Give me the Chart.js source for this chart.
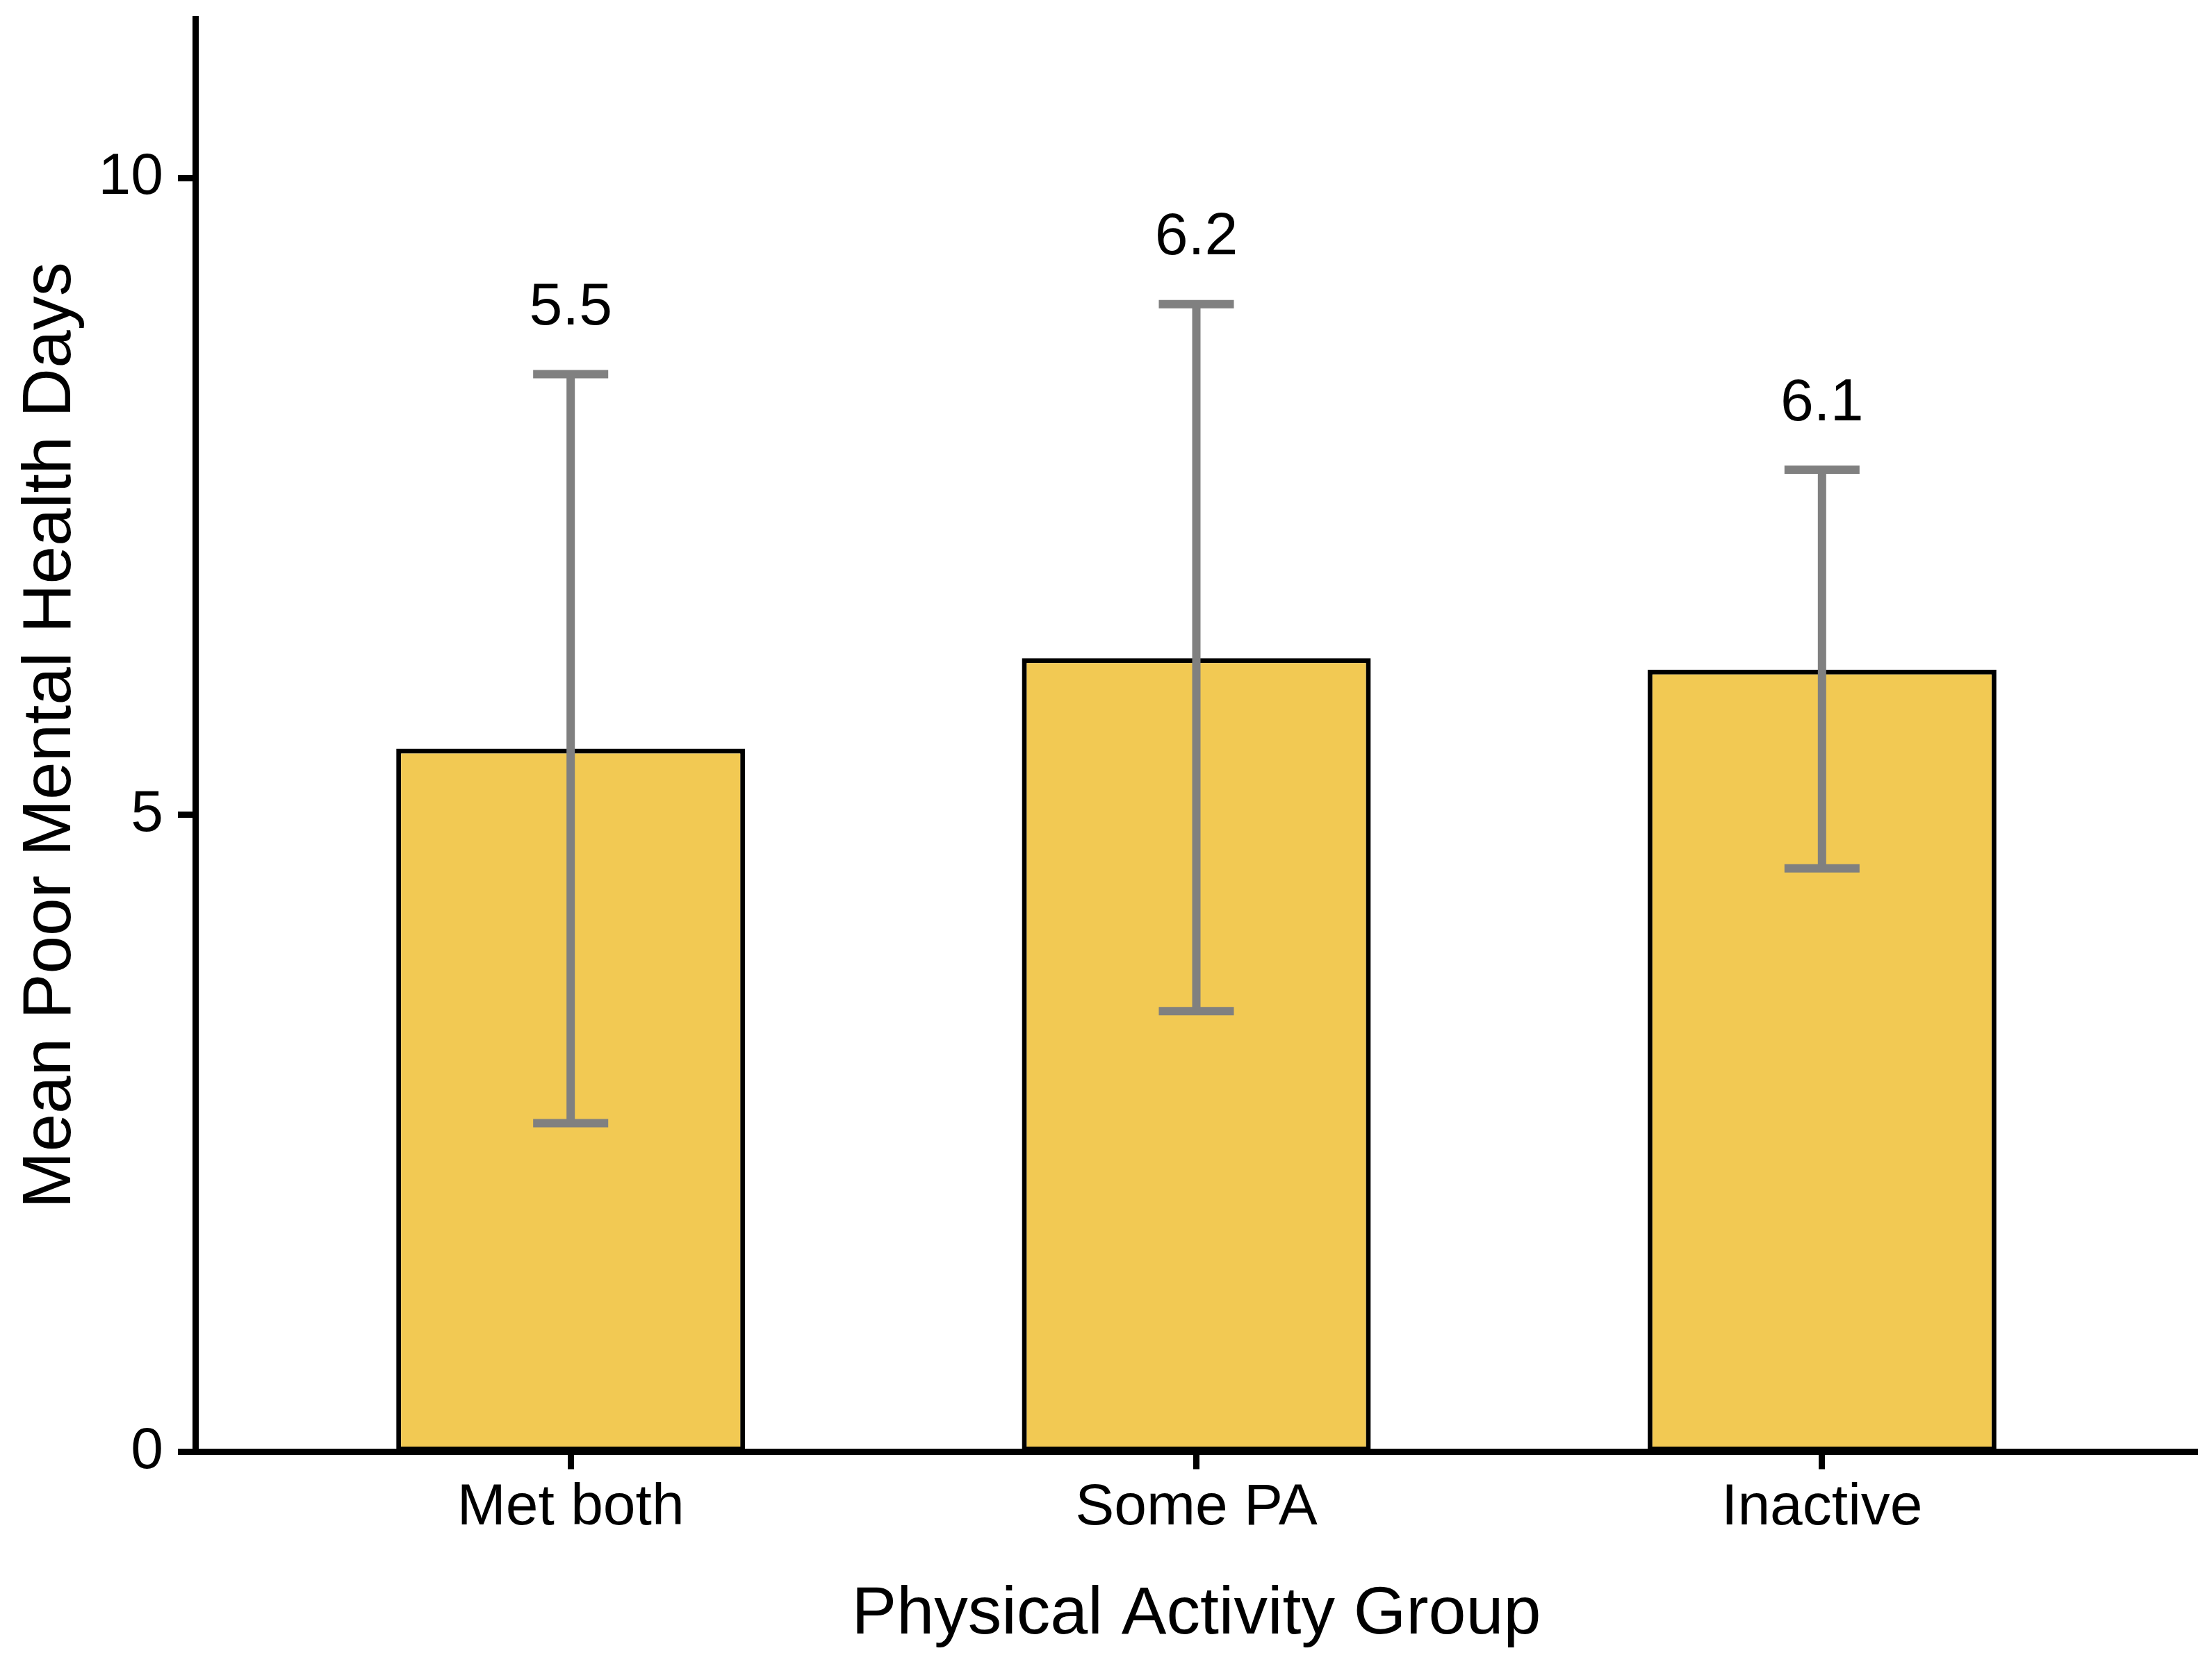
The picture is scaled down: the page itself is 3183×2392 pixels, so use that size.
<!DOCTYPE html>
<html lang="en">
<head>
    <meta charset="UTF-8">
    <title>Mean Poor Mental Health Days by Physical Activity Group</title>
    <script src="https://cdn.jsdelivr.net/npm/chart.js@4.4.0/dist/chart.umd.min.js"></script>
    <style>
        body {
            margin: 0;
            background: #fff;
        }
        #chart-container {
            width: 3183px;
            height: 2392px;
        }
    </style>
</head>
<body>
    <div id="chart-container">
        <canvas id="paChart" width="3183" height="2392"></canvas>
    </div>

    <script>
        // data
        const groups = ['Met both', 'Some PA', 'Inactive'];
        const groupPos = [1, 2, 3];
        const meanDays = [5.52, 6.23, 6.14];
        const errLow = [2.58, 3.46, 4.58];
        const errHigh = [8.46, 9.01, 7.71];
        const yTicks = [0, 5, 10];

        const FONT = '"Liberation Sans", Arial, Helvetica, sans-serif';

        // error bars + value labels above the upper whisker
        Chart.register({
            id: 'errorBarsPlugin',
            afterDatasetsDraw(chart) {
                const ctx = chart.ctx;
                const xs = chart.scales.x;
                const ys = chart.scales.y;
                ctx.save();
                ctx.strokeStyle = '#808080';
                ctx.lineWidth = 12;
                ctx.lineCap = 'butt';
                groupPos.forEach((p, i) => {
                    const x = xs.getPixelForValue(p);
                    const xl = xs.getPixelForValue(p - 0.06);
                    const xr = xs.getPixelForValue(p + 0.06);
                    const yTop = ys.getPixelForValue(errHigh[i]);
                    const yBot = ys.getPixelForValue(errLow[i]);
                    ctx.beginPath();
                    ctx.moveTo(x, yTop);
                    ctx.lineTo(x, yBot);
                    ctx.moveTo(xl, yTop);
                    ctx.lineTo(xr, yTop);
                    ctx.moveTo(xl, yBot);
                    ctx.lineTo(xr, yBot);
                    ctx.stroke();

                    ctx.fillStyle = '#000';
                    ctx.font = '86px ' + FONT;
                    ctx.textAlign = 'center';
                    ctx.textBaseline = 'alphabetic';
                    ctx.fillText(meanDays[i].toFixed(1), x, ys.getPixelForValue(errHigh[i] + 0.39));
                });
                ctx.restore();
            }
        });

        const ctx = document.getElementById('paChart').getContext('2d');
        new Chart(ctx, {
            type: 'bar',
            data: {
                datasets: [{
                    label: 'Mean Poor Mental Health Days',
                    data: groupPos.map((p, i) => ({ x: p, y: meanDays[i] })),
                    backgroundColor: '#F2C953',
                    borderColor: '#000',
                    borderWidth: 7,
                    borderSkipped: false,
                    categoryPercentage: 1,
                    barPercentage: 0.5576
                }]
            },
            options: {
                responsive: false,
                devicePixelRatio: 1,
                animation: false,
                layout: { padding: { top: 27, right: 21, bottom: 0, left: 0 } },
                plugins: {
                    legend: { display: false },
                    tooltip: { enabled: false }
                },
                scales: {
                    x: {
                        type: 'linear',
                        min: 0.4,
                        max: 3.6,
                        offset: false,
                        afterBuildTicks: (scale) => {
                            scale.ticks = groupPos.map(v => ({ value: v }));
                        },
                        afterFit: (scale) => {
                            scale.height = 302.5;
                            scale.paddingLeft = 0;
                            scale.paddingRight = 0;
                        },
                        grid: {
                            offset: false,
                            drawOnChartArea: false,
                            drawTicks: true,
                            tickLength: 25,
                            tickWidth: 9,
                            tickColor: '#000'
                        },
                        border: { display: true, color: '#000', width: 9, z: 1 },
                        ticks: {
                            padding: 6,
                            color: '#000',
                            font: { family: FONT, size: 84 },
                            callback: (v) => groups[groupPos.indexOf(v)] || ''
                        },
                        title: {
                            display: true,
                            text: 'Physical Activity Group',
                            color: '#000',
                            font: { family: FONT, size: 97 },
                            padding: { top: 0, bottom: 10 }
                        }
                    },
                    y: {
                        min: 0,
                        max: 11.25,
                        afterBuildTicks: (scale) => {
                            scale.ticks = yTicks.map(v => ({ value: v }));
                        },
                        afterFit: (scale) => {
                            scale.width = 281;
                            scale.paddingTop = 0;
                            scale.paddingBottom = 0;
                        },
                        grid: {
                            drawOnChartArea: false,
                            drawTicks: true,
                            tickLength: 25,
                            tickWidth: 9,
                            tickColor: '#000'
                        },
                        border: { display: true, color: '#000', width: 9, z: 1 },
                        ticks: {
                            padding: 21,
                            color: '#000',
                            font: { family: FONT, size: 84 }
                        },
                        title: {
                            display: true,
                            text: 'Mean Poor Mental Health Days',
                            color: '#000',
                            font: { family: FONT, size: 98 },
                            padding: { top: 15, bottom: 0 }
                        }
                    }
                }
            }
        });
    </script>
</body>
</html>
